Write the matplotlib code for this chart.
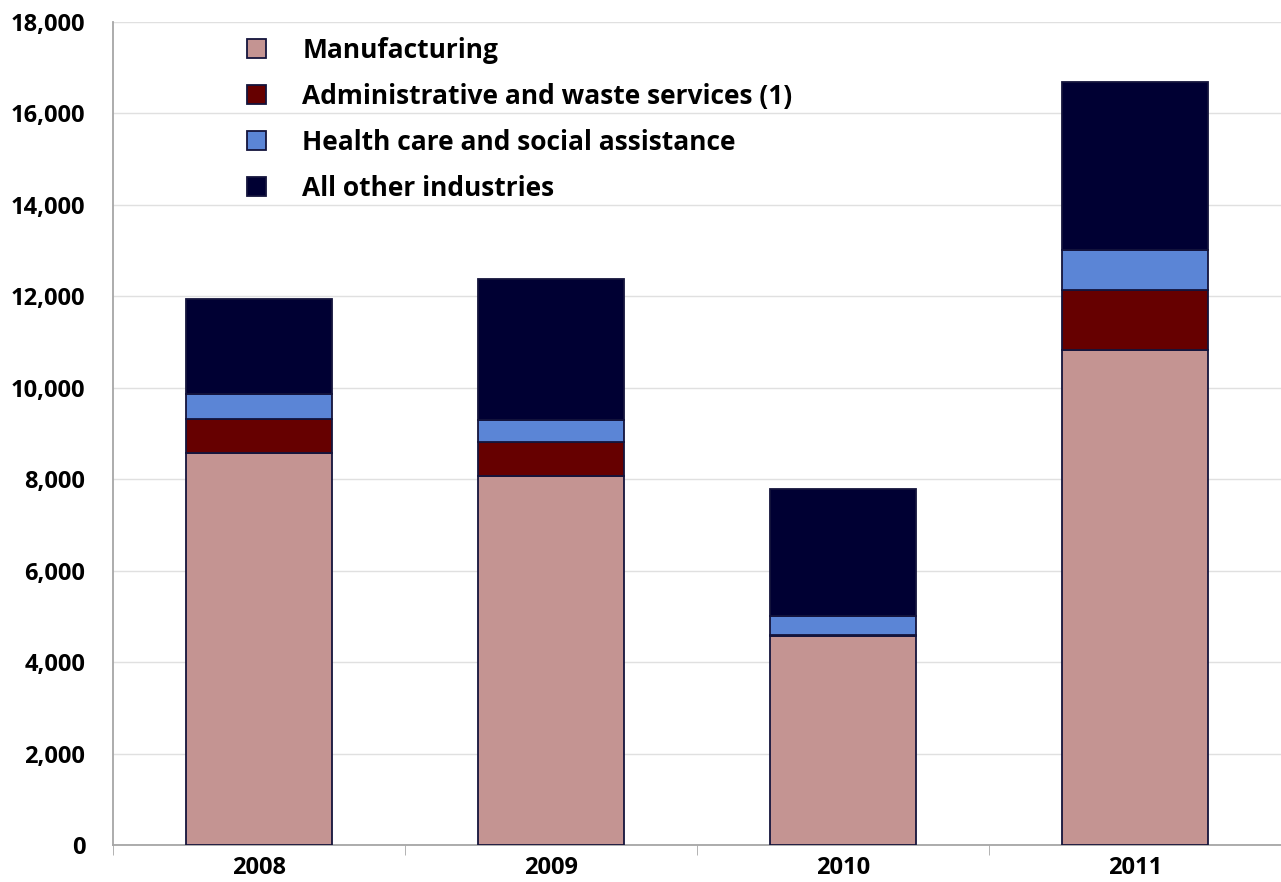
import matplotlib.pyplot as plt
import numpy as np

# data
years = ['2008', '2009', '2010', '2011']
manufacturing = [8570, 8070, 4580, 10820]
admin_waste = [750, 740, 15, 1310]
health_care = [550, 480, 410, 880]
all_other = [2070, 3090, 2780, 3680]

labels = ['Manufacturing', 'Administrative and waste services (1)',
          'Health care and social assistance', 'All other industries']
colors = ['#C49492', '#660000', '#5B85D6', '#000033']

plt.rcParams['font.family'] = ['Open Sans', 'DejaVu Sans']

fig = plt.figure(figsize=(12.81, 8.82), dpi=100)
ax = fig.add_axes([113 / 1281, 1 - 845 / 882, 1168 / 1281, 823 / 882])

x = np.arange(len(years))
bottom = np.zeros(len(years))
handles = []
for vals, lab, col in zip([manufacturing, admin_waste, health_care, all_other], labels, colors):
    b = ax.bar(x, vals, width=0.5, bottom=bottom, color=col, edgecolor='#14143c',
               linewidth=1.3, label=lab, zorder=3)
    handles.append(b)
    bottom += np.array(vals)

ax.set_ylim(0, 18000)
ax.set_xlim(-0.5, 3.5)
ax.set_yticks(range(0, 18001, 2000))
ax.set_yticklabels([f'{v:,}' for v in range(0, 18001, 2000)], fontsize=17, fontweight='bold')
ax.set_xticks(x)
ax.set_xticklabels(years, fontsize=17, fontweight='bold')
ax.set_xticks([-0.5, 0.5, 1.5, 2.5, 3.5], minor=True)
ax.tick_params(axis='y', length=0, pad=20)
ax.tick_params(axis='x', which='major', length=0, pad=8)
ax.tick_params(axis='x', which='minor', length=7, color='#a6a6a6', direction='out')

ax.yaxis.grid(True, color='#e0e0e0', linewidth=1, zorder=0)
ax.set_axisbelow(True)
for s in ['top', 'right']:
    ax.spines[s].set_visible(False)
for s in ['left', 'bottom']:
    ax.spines[s].set_color('#a6a6a6')
    ax.spines[s].set_linewidth(1.3)

leg = ax.legend(handles=handles, loc='upper left', bbox_to_anchor=(0.097, 1.008),
                frameon=False, prop={'size': 19, 'weight': 'bold'},
                handlelength=0.72, handleheight=0.72, handletextpad=1.36,
                labelspacing=0.72, borderaxespad=0.4)

fig.savefig('out.png', dpi=100)
